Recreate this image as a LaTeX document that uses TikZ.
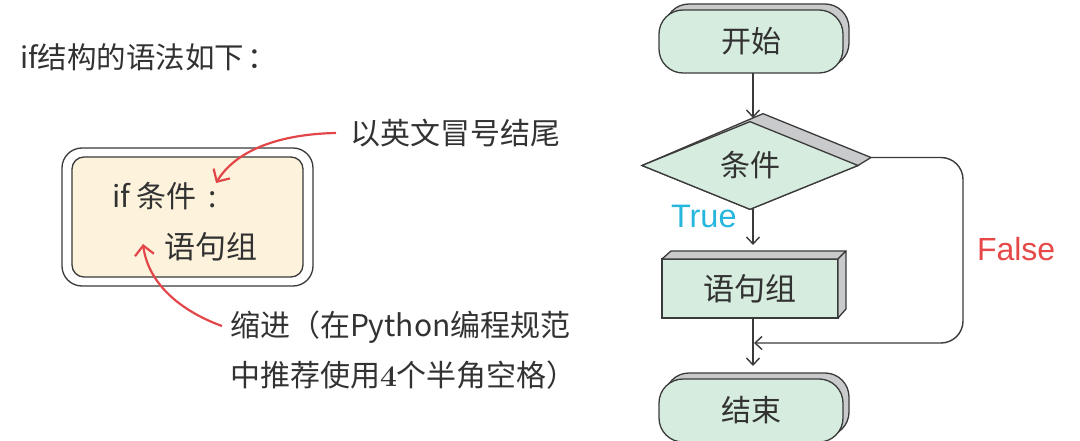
\documentclass[tikz,border=0pt]{standalone}
\usepackage{fontspec}
\newfontfamily\cjk{Noto Sans CJK SC}
\newfontfamily\lsans{Liberation Sans}
\usetikzlibrary{arrows.meta,shapes.geometric,calc,backgrounds}
\definecolor{ink}{RGB}{58,58,58}
\definecolor{txt}{RGB}{50,50,50}
\definecolor{mint}{RGB}{214,236,222}
\definecolor{shade}{RGB}{200,202,204}
\definecolor{cream}{RGB}{253,243,221}
\definecolor{redarr}{RGB}{226,70,72}
\definecolor{truec}{RGB}{38,182,222}
\definecolor{falsec}{RGB}{230,72,72}
\tikzset{
  base/.style={inner sep=0pt, outer sep=0pt, draw=ink, line width=1.3pt},
  term/.style={base, rectangle, rounded corners=24pt, minimum width=184pt, minimum height=63pt, fill=mint, text=txt, font=\cjk\fontsize{30}{34}\selectfont},
  termsh/.style={term, fill=shade},
  dec/.style={base, diamond, minimum width=216pt, minimum height=72pt, fill=mint, text=txt, font=\cjk\fontsize{30}{34}\selectfont},
  proc/.style={base, rectangle, minimum width=176pt, minimum height=59pt, fill=mint, text=txt, font=\cjk\fontsize{31}{34}\selectfont},
  face/.style={draw=ink, line width=1.3pt, fill=shade, line join=round},
  flow/.style={draw=ink, line width=1.4pt, -{Straight Barb[length=7pt,width=13pt,line width=1.4pt]}},
  redflow/.style={draw=redarr, line width=2.2pt, -{Straight Barb[length=9.5pt,width=19pt,line width=2.2pt]}},
  plain/.style={inner sep=0pt, outer sep=0pt, text=txt},
}
\begin{document}
\begin{tikzpicture}[x=1pt,y=-1pt]
\useasboundingbox (0,0) rectangle (1080,441);

% ---------- left side ----------
\node[plain, anchor=west, font=\cjk\fontsize{29.5}{32}\selectfont] (title) at (20,57) {if结构的语法如下\hspace{3pt}：};

\node[base, rectangle, rounded corners=20pt, minimum width=251pt, minimum height=138pt, fill=white] (outer) at (187.5,217) {};
\node[base, rectangle, rounded corners=12pt, minimum width=231pt, minimum height=120pt, fill=cream] (inner) at (187.5,217) {};
\node[plain, anchor=west, font=\cjk\fontsize{30}{34}\selectfont] (ifline) at (112,196) {if 条件\hspace{5pt} :};
\node[plain, anchor=west, font=\cjk\fontsize{31}{34}\selectfont] (body) at (164,247) {语句组};

\node[plain, anchor=west, font=\cjk\fontsize{30}{34}\selectfont] (note1) at (350,133) {以英文冒号结尾};
\node[plain, anchor=west, align=left, font=\cjk\fontsize{30}{50}\selectfont] (note2) at (230,350) {缩进（在Python编程规范\\中推荐使用{\normalfont\bfseries 4}个半角空格）};

\coordinate (r1s) at (336,133);
\coordinate (r1e) at (216,183);
\coordinate (r2s) at (222,326);
\coordinate (r2e) at (143,244);
\draw[redflow] (r1s) .. controls (280,134) and (236,150) .. (r1e);
\draw[redflow] (r2s) .. controls (178,310) and (148,282) .. (r2e);

% ---------- flowchart ----------
\node[termsh] (startsh) at (757,35.5) {};
\node[term] (start) at (751,41.5) {开始};

\node[dec] (cond) at (750,165.5) {条件};
\coordinate (cn) at ($(cond.north)+(13,-8)$);
\coordinate (ce) at ($(cond.east)+(13,-8)$);
\begin{pgfonlayer}{background}
\draw[face] (cond.west) -- (cn) -- (ce) -- (cond.east) -- (cond.south) -- cycle;
\end{pgfonlayer}

\node[proc] (sb) at (750,288.5) {语句组};
\draw[face] (sb.north west) -- ++(9,-8) -- ($(sb.north east)+(8,-8)$) -- (sb.north east) -- cycle;
\draw[face] (sb.north east) -- ++(8,-8) -- ($(sb.south east)+(8,-9)$) -- (sb.south east) -- cycle;

\node[termsh] (endsh) at (757,404.5) {};
\node[term] (end) at (751,410.5) {结束};

\draw[flow, shorten >=3pt] (start.south -| 753,0) -- (753,121);
\draw[flow] (cond.south -| 753,0) -- ([yshift=14pt]sb.north -| 753,0);
\draw[flow, shorten >=7pt] (sb.south -| 753,0) -- (endsh.north -| 753,0);

\coordinate (fr) at (963,250);
\coordinate (join) at (754,343);
\draw[flow, rounded corners=22pt] (ce) -| (fr) |- (join);

\node[plain, anchor=base west, text=truec, font=\lsans\fontsize{32.5}{36}\selectfont] (tl) at (671,228) {True};
\node[plain, anchor=base west, text=falsec, font=\lsans\fontsize{32}{36}\selectfont] (fl) at (977,260) {False};
\end{tikzpicture}
\end{document}
